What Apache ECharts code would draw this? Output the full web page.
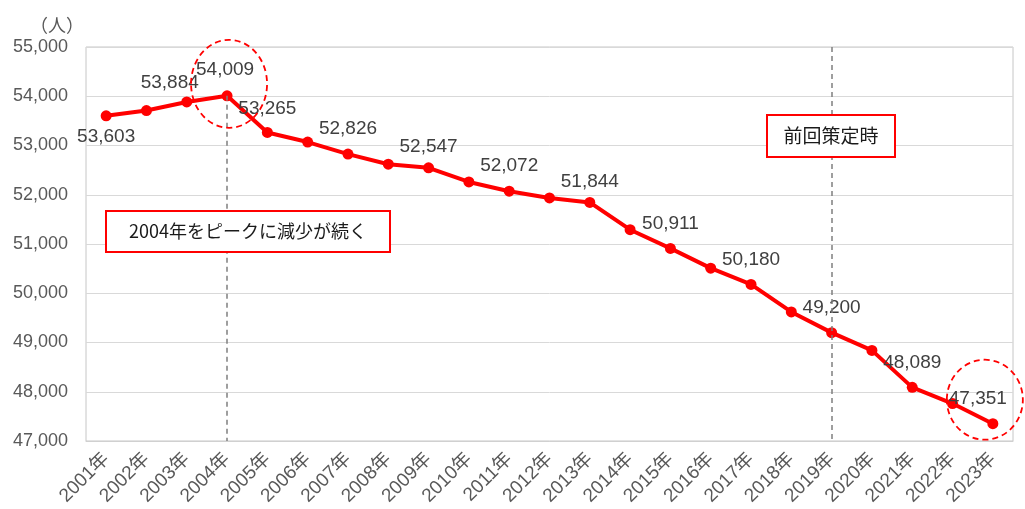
<!DOCTYPE html>
<html>
<head>
<meta charset="utf-8">
<script src="https://cdn.jsdelivr.net/npm/echarts@6/dist/echarts.min.js"></script>
<style>
  html, body { margin: 0; padding: 0; background: #fff; }
  #chart { width: 1025px; height: 509px; }
</style>
</head>
<body>
<div id="chart"></div>
<script>
// 年ごとの人数
var years = ['2001年', '2002年', '2003年', '2004年', '2005年', '2006年', '2007年', '2008年',
  '2009年', '2010年', '2011年', '2012年', '2013年', '2014年', '2015年', '2016年', '2017年',
  '2018年', '2019年', '2020年', '2021年', '2022年', '2023年'];
var values = [53603, 53710, 53884, 54009, 53265, 53070, 52826, 52620, 52547, 52260, 52072, 51935,
  51844, 51290, 50911, 50510, 50180, 49620, 49200, 48840, 48089, 47760, 47351];
// 値ラベルを付ける年
var labelYears = ['2001年', '2003年', '2004年', '2005年', '2007年', '2009年', '2011年', '2013年',
  '2015年', '2017年', '2019年', '2021年', '2023年'];
var yTicks = [47000, 55000, 1000]; // min, max, interval
var peakYear = '2004年';
var planYear = '2019年';
var lastYear = '2023年';

var fmt = function (v) { return v.toLocaleString('en-US'); };

// ラベル位置の微調整
var labelTweak = {
  '2001年': { position: 'bottom', offset: [0, -4] },
  '2003年': { offset: [-17, 6] },
  '2004年': { offset: [-2, -1] },
  '2005年': { offset: [0, 1] },
  '2009年': { offset: [0, 4] },
  '2013年': { offset: [0, 4] },
  '2023年': { offset: [-15, 0] }
};

var seriesData = values.map(function (v, i) {
  var y = years[i];
  var item = { value: v };
  if (labelYears.indexOf(y) >= 0) {
    var t = labelTweak[y] || {};
    item.label = {
      show: true,
      position: t.position || 'top',
      offset: t.offset || [0, 0]
    };
  }
  return item;
});

var chart = echarts.init(document.getElementById('chart'));

var option = {
  animation: false,
  grid: {
    left: 86, right: 12, top: 47, bottom: 68,
    show: true, borderColor: '#c6c6c6', borderWidth: 1
  },
  xAxis: {
    type: 'category',
    data: years,
    boundaryGap: true,
    axisLine: { lineStyle: { color: '#d0d0d0' } },
    axisTick: { show: false },
    axisLabel: {
      interval: 0,
      rotate: 45,
      margin: 15,
      color: '#595959',
      fontSize: 19,
      fontFamily: 'Liberation Sans, Noto Sans CJK JP, sans-serif'
    }
  },
  yAxis: {
    type: 'value',
    min: yTicks[0],
    max: yTicks[1],
    interval: yTicks[2],
    axisLine: { show: false },
    axisTick: { show: false },
    splitLine: { lineStyle: { color: '#d9d9d9', width: 1 } },
    axisLabel: {
      margin: 18,
      color: '#595959',
      fontSize: 18,
      fontFamily: 'Liberation Sans, sans-serif',
      formatter: fmt
    }
  },
  series: [{
    type: 'line',
    data: seriesData,
    symbol: 'circle',
    symbolSize: 11,
    lineStyle: { color: '#ff0000', width: 4 },
    itemStyle: { color: '#ff0000' },
    label: {
      show: false,
      distance: 10,
      color: '#404040',
      fontSize: 19,
      fontFamily: 'Liberation Sans, sans-serif',
      formatter: function (p) { return fmt(p.value); }
    },
    markLine: {
      silent: true,
      symbol: 'none',
      label: { show: false },
      lineStyle: { color: '#7f7f7f', type: [5, 4], width: 1.5 },
      data: [
        [{ coord: [peakYear, values[years.indexOf(peakYear)]] }, { coord: [peakYear, yTicks[0]] }],
        [{ coord: [planYear, yTicks[1]] }, { coord: [planYear, yTicks[0]] }]
      ]
    },
    z: 3
  }]
};

chart.setOption(option);

// 点線の丸と注記ボックス
var pPeak = chart.convertToPixel({ seriesIndex: 0 }, [peakYear, values[years.indexOf(peakYear)]]);
var pLast = chart.convertToPixel({ seriesIndex: 0 }, [lastYear, values[years.indexOf(lastYear)]]);

var ring = function (cx, cy, rx, ry) {
  return {
    type: 'ellipse',
    shape: { cx: cx, cy: cy, rx: rx, ry: ry },
    style: { fill: 'none', stroke: '#ff0000', lineWidth: 1.8, lineDash: [6, 4] },
    z: 10
  };
};
var box = function (x, y, w, h, txt, fs) {
  return [{
    type: 'rect',
    shape: { x: x, y: y, width: w, height: h },
    style: { fill: '#ffffff', stroke: '#ff0000', lineWidth: 2 },
    z: 10
  }, {
    type: 'text',
    x: x + w / 2, y: y + h / 2,
    style: {
      text: txt, fill: '#1a1a1a', fontSize: fs,
      fontFamily: 'Noto Sans CJK JP, sans-serif',
      align: 'center', verticalAlign: 'middle'
    },
    z: 11
  }];
};

chart.setOption({
  graphic: [
    {
      type: 'text', x: 84, y: 25,
      style: {
        text: '（人）', fill: '#595959', fontSize: 18,
        fontFamily: 'Noto Sans CJK JP, sans-serif',
        align: 'right', verticalAlign: 'middle'
      }
    },
    ring(pPeak[0] + 2, pPeak[1] - 12, 38, 44),
    ring(pLast[0] - 8, pLast[1] - 24, 38, 40)
  ].concat(box(106, 211, 284, 41, '2004年をピークに減少が続く', 18))
   .concat(box(767, 115, 128, 42, '前回策定時', 19))
});
</script>
</body>
</html>
